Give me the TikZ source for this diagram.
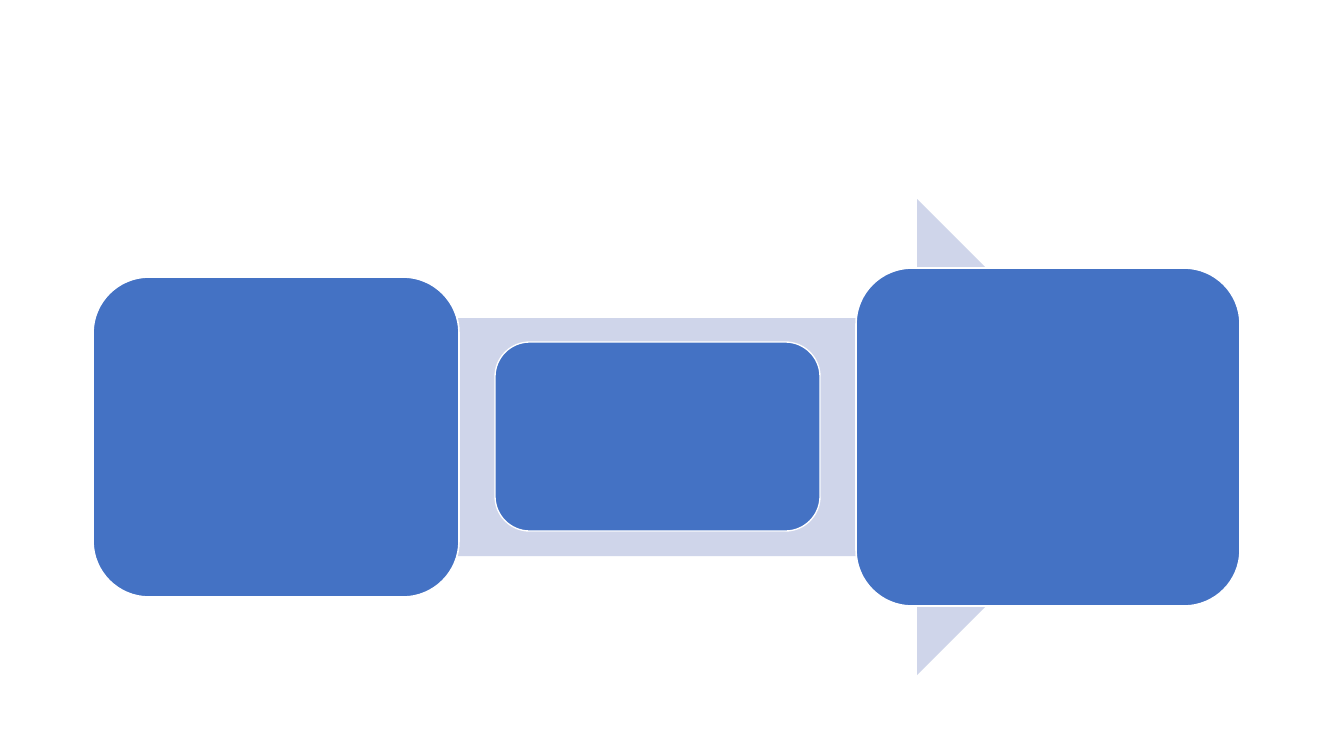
\documentclass[tikz,border=0pt]{standalone}
\definecolor{boxblue}{HTML}{4472C4}
\definecolor{arrowlav}{HTML}{CFD5EA}
\begin{document}
\begin{tikzpicture}[x=0.75pt,y=-0.75pt,
  bigbox/.style={fill=boxblue,draw=white,line width=1.2pt,rounded corners=42pt},
  midbox/.style={fill=boxblue,draw=white,line width=1pt,rounded corners=26pt},
  arrowshape/.style={fill=arrowlav,draw=none}]
\useasboundingbox (0,0) rectangle (1333,750);
\fill[white] (0,0) rectangle (1333,750);
\path[arrowshape] (150,318) -- (917,318) -- (917,199) -- (1155,437) -- (917,675) -- (917,556) -- (150,556) -- cycle;
\node[bigbox, minimum width=366*0.75pt, minimum height=320*0.75pt, inner sep=0pt] (left) at (276,437) {};
\node[midbox, minimum width=325*0.75pt, minimum height=189*0.75pt, inner sep=0pt] (mid) at (657.5,436.5) {};
\node[bigbox, minimum width=384*0.75pt, minimum height=338*0.75pt, inner sep=0pt] (right) at (1048,437) {};
\end{tikzpicture}
\end{document}
